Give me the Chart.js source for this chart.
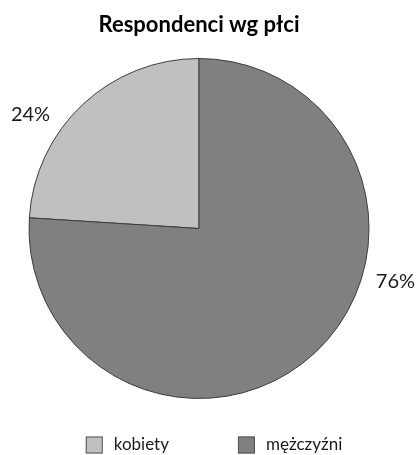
<!DOCTYPE html>
<html lang="pl">
<head>
<meta charset="utf-8">
<title>Respondenci wg płci</title>
<script src="https://cdn.jsdelivr.net/npm/chart.js@4/dist/chart.umd.min.js"></script>
<style>
  html, body { margin: 0; padding: 0; background: #ffffff; }
  #wrap { width: 417px; height: 455px; position: relative; }
</style>
</head>
<body>
<div id="wrap"><canvas id="pie"></canvas></div>
<script>
// Respondents by gender
const categories = ['kobiety', 'mężczyźni'];
const shares = [24, 76];
const valueLabels = ['24%', '76%'];
const chartTitle = 'Respondenci wg płci';

const sliceColors = ['#c0c0c0', '#808080'];
const FONT = 'Lato, "Open Sans", "DejaVu Sans", sans-serif';

// Percent labels placed just outside the rim, in the direction given per slice
const outsideLabels = {
  id: 'outsideLabels',
  afterDatasetsDraw(chart, args, opts) {
    const { ctx } = chart;
    const meta = chart.getDatasetMeta(0);
    ctx.save();
    ctx.font = opts.font;
    ctx.fillStyle = opts.color;
    ctx.textAlign = 'center';
    ctx.textBaseline = 'middle';
    meta.data.forEach((arc, i) => {
      const { x, y, outerRadius } = arc.getProps(['x', 'y', 'outerRadius'], true);
      const a = opts.anchorAngles[i] * Math.PI / 180;   // degrees from 12 o'clock, clockwise
      const dx = Math.sin(a), dy = -Math.cos(a);
      const r = outerRadius + opts.gap;
      const ax = x + dx * r, ay = y + dy * r;
      const text = valueLabels[i];
      const w = ctx.measureText(text).width;
      const h = opts.textHeight;
      const m = Math.max(Math.abs(dx), Math.abs(dy));
      ctx.fillText(text, ax + (dx / m) * w / 2, ay + (dy / m) * h / 2);
    });
    ctx.restore();
  }
};

// Legend row under the pie
const bottomLegend = {
  id: 'bottomLegend',
  afterDraw(chart, args, opts) {
    const { ctx } = chart;
    const ds = chart.data.datasets[0];
    ctx.save();
    ctx.font = opts.font;
    ctx.textBaseline = 'middle';
    ctx.textAlign = 'left';
    const widths = chart.data.labels.map(l => ctx.measureText(l).width);
    let total = 0;
    widths.forEach((w, i) => {
      total += opts.box + opts.textGap + w + (i < widths.length - 1 ? opts.itemGap : 0);
    });
    let cx = chart.width / 2 + opts.shift - total / 2;
    const cy = opts.y;
    chart.data.labels.forEach((label, i) => {
      ctx.fillStyle = ds.backgroundColor[i];
      ctx.fillRect(cx, cy - opts.box / 2, opts.box, opts.box);
      ctx.strokeStyle = opts.boxBorder;
      ctx.lineWidth = 1;
      ctx.strokeRect(cx + 0.5, cy - opts.box / 2 + 0.5, opts.box - 1, opts.box - 1);
      ctx.fillStyle = opts.color;
      ctx.fillText(label, cx + opts.box + opts.textGap, cy);
      cx += opts.box + opts.textGap + widths[i] + opts.itemGap;
    });
    ctx.restore();
  }
};

new Chart(document.getElementById('pie'), {
  type: 'pie',
  data: {
    labels: categories,
    datasets: [{
      data: shares,
      backgroundColor: sliceColors,
      borderColor: '#3c3c3c',
      borderWidth: 1
    }]
  },
  options: {
    responsive: true,
    maintainAspectRatio: false,
    animation: false,
    // first slice ends exactly at 12 o'clock
    rotation: -shares[0] / shares.reduce((a, b) => a + b, 0) * 360,
    layout: { padding: { top: 0, left: 0, right: 19, bottom: 56 } },
    plugins: {
      title: {
        display: true,
        text: chartTitle,
        color: '#000000',
        font: { family: FONT, size: 22, weight: 'bold', lineHeight: 1.2 },
        padding: { top: 12, bottom: 19.6 }
      },
      legend: { display: false },
      tooltip: { enabled: false },
      outsideLabels: {
        font: '20px ' + FONT,
        color: '#1a1a1a',
        anchorAngles: [-54, 106],
        gap: 14,
        textHeight: 15
      },
      bottomLegend: {
        font: '17px ' + FONT,
        color: '#1a1a1a',
        box: 17,
        textGap: 11,
        itemGap: 69,
        shift: 5.5,
        y: 445,
        boxBorder: '#555555'
      }
    }
  },
  plugins: [outsideLabels, bottomLegend]
});
</script>
</body>
</html>
